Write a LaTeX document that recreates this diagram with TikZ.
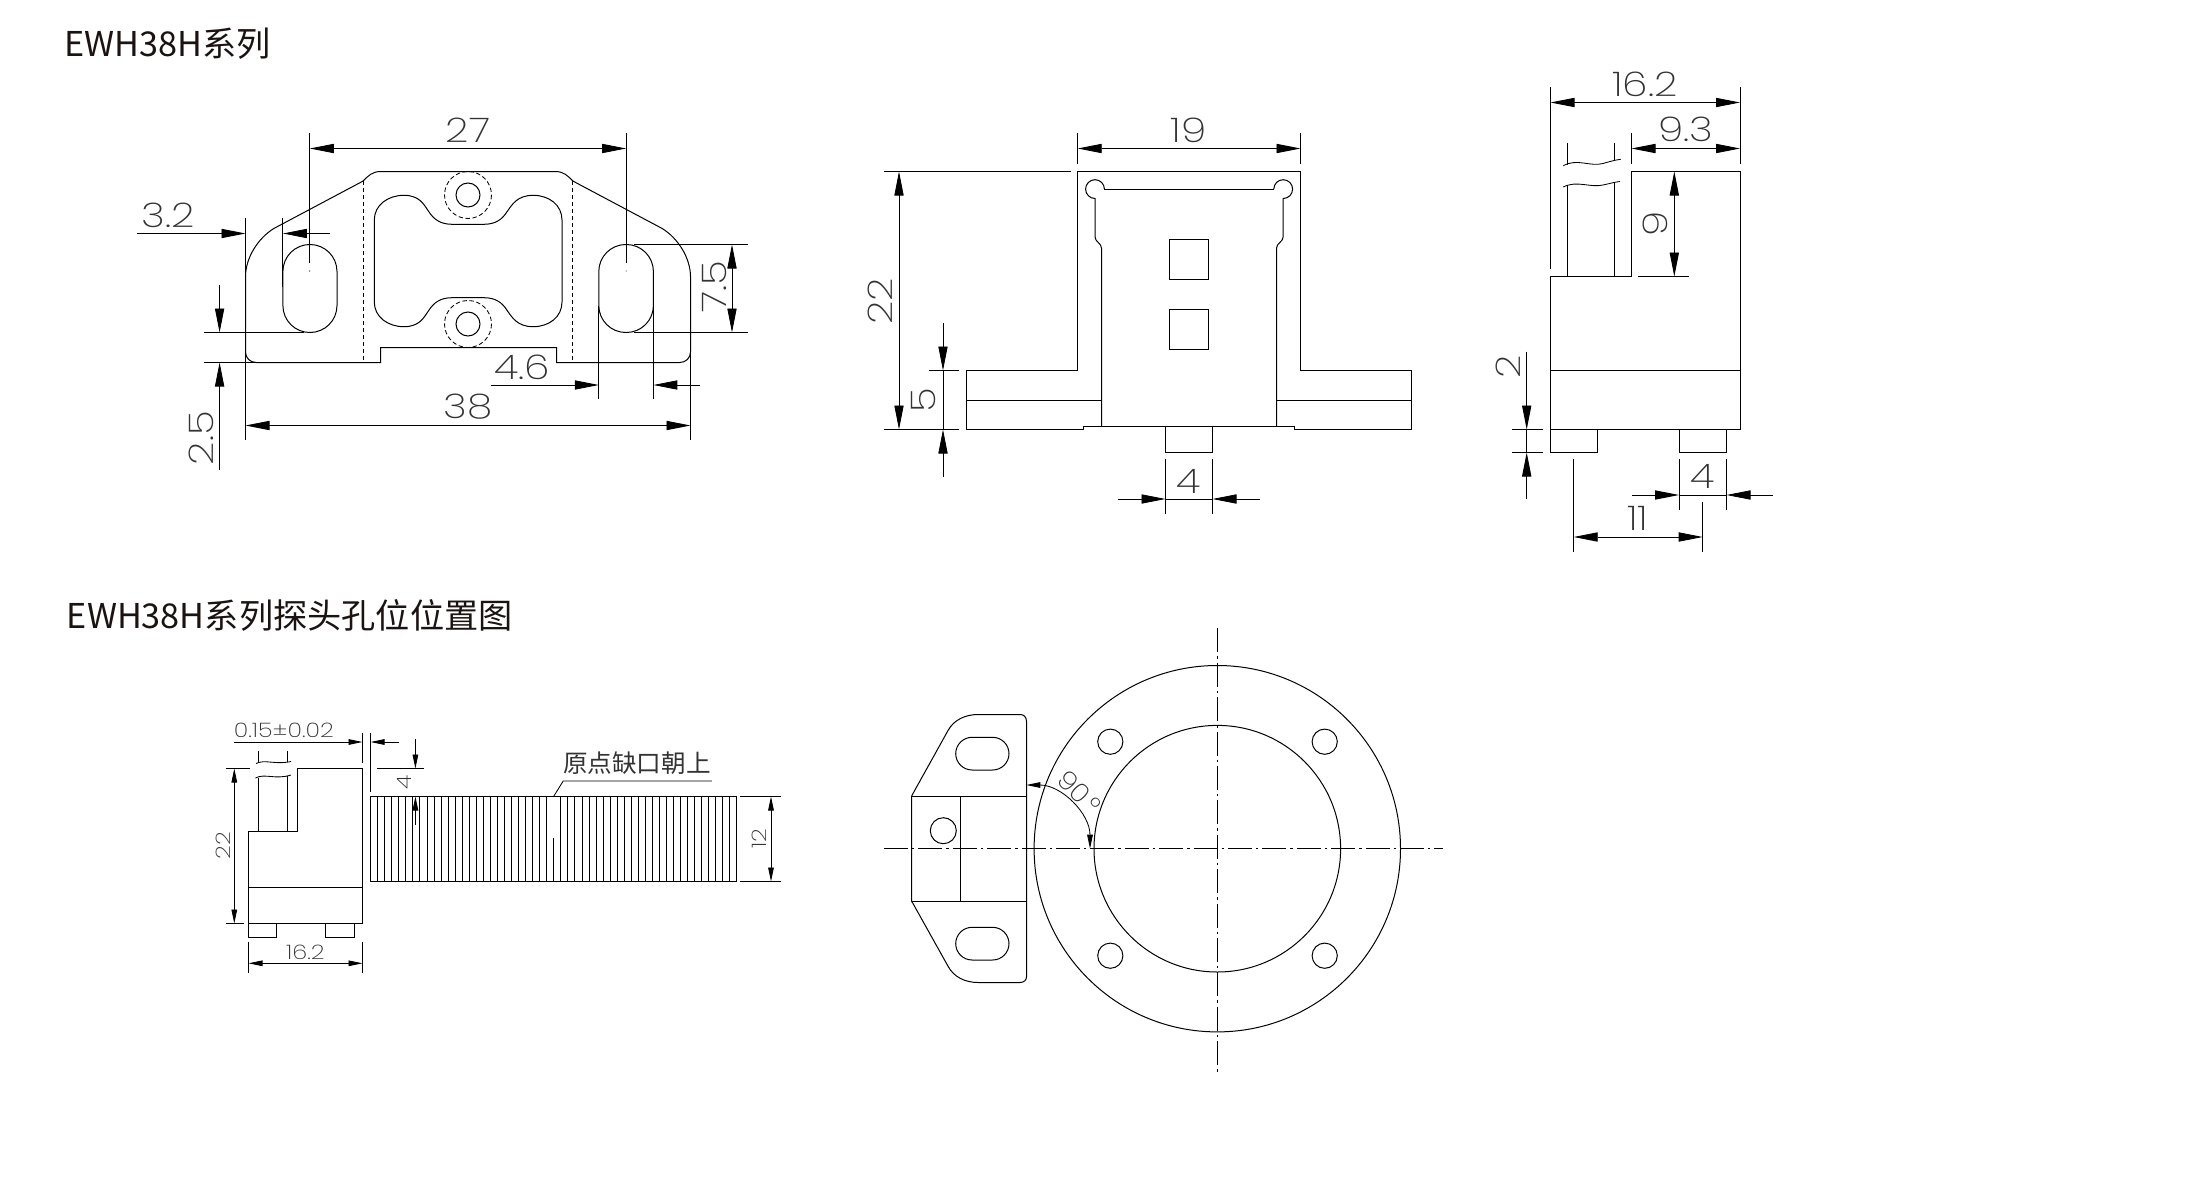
\documentclass[tikz,border=0pt]{standalone}
\usepackage{fontspec}
\usetikzlibrary{arrows.meta}
\newfontfamily\cadfont[UprightFont=* ExtraLight]{Poppins}
\newfontfamily\cjkfont{Noto Sans CJK SC}
\definecolor{inkc}{HTML}{1A1311}
\definecolor{dimc}{HTML}{333333}
\newcommand{\wdg}[1]{\scalebox{1.2}[1]{#1}}
\tikzset{
  obj/.style={line width=0.5pt,black,line join=miter},
  thn/.style={line width=0.42pt,black},
  dimln/.style={line width=0.42pt,black},
  ar/.style={dimln,-{Triangle[length=12pt,width=4.6pt]}},
  arb/.style={dimln,{Triangle[length=12pt,width=4.6pt]}-{Triangle[length=12pt,width=4.6pt]}},
  sar/.style={dimln,-{Triangle[length=7pt,width=2.8pt]}},
  sarb/.style={dimln,{Triangle[length=7pt,width=2.8pt]}-{Triangle[length=7pt,width=2.8pt]}},
  dim/.style={inner sep=0pt,text=dimc,font=\cadfont\fontsize{17}{17}\selectfont},
  sdim/.style={inner sep=0pt,text=dimc,font=\cadfont\fontsize{10}{10}\selectfont},
  ttl/.style={inner sep=0pt,anchor=base west,text=inkc,font=\cjkfont\fontsize{17.1}{17.1}\selectfont},
  cl/.style={line width=0.5pt,black,dash pattern=on 12pt off 2pt on 1.2pt off 2pt},
  hid/.style={line width=0.42pt,black,dash pattern=on 2.2pt off 1.3pt},
}
\begin{document}
\begin{tikzpicture}[x=0.5pt,y=-0.5pt]
\useasboundingbox (0,0) rectangle (2195,1177);
\fill[white] (0,0) rectangle (2195,1177);

% titles
\node[ttl] (t1) at (64,56.5) {EWH38H系列};
\node[ttl] (t2) at (66.5,628.5) {EWH38H系列探头孔位位置图};

% ---------- View 1
\draw[obj] (381,171.5) -- (555,171.5) .. controls (564,171.5) and (568,176) .. (572.8,181)
  -- (661.8,228.3) .. controls (678,238) and (690.5,258) .. (690.5,276.7) -- (690.5,351.7)
  .. controls (690.5,358) and (686,362.5) .. (679.6,362.5) -- (556.5,362.5) -- (556.5,347.5)
  -- (380.5,347.5) -- (380.5,362.5) -- (256.4,362.5) .. controls (250,362.5) and (245.5,358) .. (245.5,351.7)
  -- (245.5,276.7) .. controls (245.5,258) and (258,238) .. (274.2,228.3) -- (363.2,181)
  .. controls (368,176) and (372,171.5) .. (381,171.5) -- cycle;
\draw[obj,rounded corners=13.5pt] (282.9,244.5) rectangle (337,332.5);
\draw[obj,rounded corners=13.5pt] (598.8,244.5) rectangle (653.4,332.5);
\fill (309.8,271) circle[radius=0.6] (626.1,271) circle[radius=0.6];
\draw[hid] (363.2,181) -- (363.2,362) (572.8,181) -- (572.8,362);
\draw[obj] (374.3,220) .. controls (374.3,205) and (388,195.3) .. (403.9,195.3)
  .. controls (420,195.3) and (424,205) .. (428.4,211) .. controls (434,220) and (441,224.3) .. (452.2,224.3)
  -- (483.8,224.3) .. controls (495,224.3) and (502,220) .. (507.5,211)
  .. controls (512,205) and (517,195.3) .. (533.2,195.3) .. controls (549,195.3) and (562,205) .. (562,220)
  -- (562,302) .. controls (562,317) and (549,326.7) .. (533.2,326.7)
  .. controls (517,326.7) and (512,317) .. (507.5,311) .. controls (502,302) and (495,297.7) .. (483.8,297.7)
  -- (452.2,297.7) .. controls (441,297.7) and (434,302) .. (428.4,311)
  .. controls (424,317) and (420,326.7) .. (403.9,326.7) .. controls (388,326.7) and (374.3,317) .. (374.3,302) -- cycle;
\draw[obj] (468,195) circle[radius=12] (468,324) circle[radius=12];
\draw[hid] (468,195) circle[radius=23.5] (468,324) circle[radius=23.5];
% dims view 1
\draw[dimln] (309.8,133.3) -- (309.8,263) (626.1,133.3) -- (626.1,263);
\draw[arb] (309.8,148.5) -- (626.1,148.5);
\node[dim] (d27) at (468,130) {\wdg{27}};
\draw[dimln] (245.5,218.3) -- (245.5,440) (282.9,218.3) -- (282.9,287) (690.5,276) -- (690.5,440);
\draw[ar] (136.6,233.5) -- (245.5,233.5);
\draw[ar] (329.6,233.5) -- (282.9,233.5);
\node[dim] (d32) at (168.2,215) {\wdg{3.2}};
\draw[dimln] (204.2,332.5) -- (304,332.5) (204.2,362.5) -- (256,362.5);
\draw[ar] (219.6,285) -- (219.6,332.5);
\draw[ar] (219.6,470) -- (219.6,362.5);
\node[dim,rotate=90] (d25) at (201,438) {\wdg{2.5}};
\draw[dimln] (634,244.5) -- (748,244.5) (634,332.5) -- (748,332.5);
\draw[arb] (732,244.5) -- (732,332.5);
\node[dim,rotate=90] (d75) at (714,287) {\wdg{7.5}};
\draw[dimln] (598.8,306) -- (598.8,399.3) (653.4,306) -- (653.4,399.3);
\draw[ar] (490.5,385) -- (598.8,385);
\draw[ar] (700,385) -- (653.4,385);
\node[dim] (d46) at (522,367.7) {\wdg{4.6}};
\draw[arb] (245.5,425.5) -- (690.5,425.5);
\node[dim] (d38) at (468,406.7) {\wdg{38}};

% ---------- View 2
\draw[obj] (1077.7,171.5) -- (1300.5,171.5) -- (1300.5,370.5) -- (1411.5,370.5) -- (1411.5,429.5)
  -- (1294,429.5) -- (1294,426.5) -- (1083.8,426.5) -- (1083.8,429.5) -- (966.5,429.5) -- (966.5,370.5)
  -- (1077.7,370.5) -- cycle;
\draw[obj] (966.5,400.5) -- (1101.5,400.5) (1276.5,400.5) -- (1411.5,400.5);
\draw[obj] (1101.5,426.5) -- (1101.5,248.3) .. controls (1101.5,243) and (1095,242) .. (1095,236.7)
  -- (1095,198.5) arc[start angle=90,end angle=360,radius=9.4];
\draw[obj] (1104.4,189) -- (1273.6,189);
\draw[obj] (1276.5,426.5) -- (1276.5,248.3) .. controls (1276.5,243) and (1283.2,242) .. (1283.2,236.7)
  -- (1283.2,198.5) arc[start angle=90,end angle=-180,radius=9.4];
\draw[obj] (1169.5,239.5) rectangle (1208.5,279.5);
\draw[obj] (1169.5,309.5) rectangle (1208.5,349.5);
\draw[obj] (1165.5,426.5) rectangle (1212.5,452.5);
% dims view 2
\draw[dimln] (1077.7,133.3) -- (1077.7,164.3) (1300.5,133.3) -- (1300.5,164.3);
\draw[arb] (1077.7,148.5) -- (1300.5,148.5);
\node[dim] (d19) at (1188.7,130) {\wdg{19}};
\draw[dimln] (884.4,171.5) -- (1071.2,171.5) (884.4,429.5) -- (959,429.5) (928.5,370.5) -- (959,370.5);
\draw[arb] (899,171.5) -- (899,429.5);
\node[dim,rotate=90] (d22) at (880.6,301) {\wdg{22}};
\draw[ar] (943,323.3) -- (943,370.5);
\draw[ar] (943,476.7) -- (943,429.5);
\draw[dimln] (943,370.5) -- (943,429.5);
\node[dim,rotate=90] (d5) at (923.5,400) {\wdg{5}};
\draw[dimln] (1165.5,459.3) -- (1165.5,514.3) (1212.5,459.3) -- (1212.5,514.3) (1165.5,499) -- (1212.5,499);
\draw[ar] (1117.9,499) -- (1165.5,499);
\draw[ar] (1259.5,499) -- (1212.5,499);
\node[dim] (d4a) at (1188.7,481.7) {\wdg{4}};

% ---------- View 3
\draw[obj] (1550.5,276.5) -- (1631.5,276.5) -- (1631.5,171.5) -- (1740,171.5) -- (1740,429.5) -- (1550.5,429.5) -- cycle;
\draw[obj] (1550.5,370.5) -- (1740,370.5);
\draw[obj] (1550.5,429.5) -- (1550.5,452.5) -- (1597.5,452.5) -- (1597.5,429.5);
\draw[obj] (1679,429.5) -- (1679,452.5) -- (1726.5,452.5) -- (1726.5,429.5);
\draw[obj] (1567.5,276.5) -- (1567.5,185) (1614.5,276.5) -- (1614.5,182);
\draw[thn] (1567.5,142.7) -- (1567.5,165) (1614.5,142.7) -- (1614.5,161);
\draw[thn] (1563.3,165.7) .. controls (1577,158) and (1590,167) .. (1603,163.5) .. controls (1610,161.5) and (1615,160) .. (1620.7,159.3);
\draw[thn] (1563.3,187) .. controls (1577,180) and (1590,188) .. (1603,185) .. controls (1610,183.5) and (1615,182) .. (1620,181.5);
% dims view 3
\draw[dimln] (1550.5,87.3) -- (1550.5,269.3) (1740,87.3) -- (1740,164) (1631.5,133.3) -- (1631.5,164);
\draw[arb] (1550.5,102.5) -- (1740,102.5);
\node[dim] (d162) at (1645,84) {\wdg{16.2}};
\draw[arb] (1631.5,148.5) -- (1740,148.5);
\node[dim] (d93) at (1685.7,129) {\wdg{9.3}};
\draw[dimln] (1638.3,276.5) -- (1689.3,276.5);
\draw[arb] (1674.3,171.5) -- (1674.3,276.5);
\node[dim,rotate=90] (d9) at (1655,224) {\wdg{9}};
\draw[dimln] (1512.3,429.5) -- (1543.3,429.5) (1512.3,452.5) -- (1543.3,452.5) (1526.7,429.5) -- (1526.7,452.5);
\draw[ar] (1526.7,351.7) -- (1526.7,429.5);
\draw[ar] (1526.7,499) -- (1526.7,452.5);
\node[dim,rotate=90] (d2) at (1508.3,366.7) {\wdg{2}};
\draw[dimln] (1679,459.3) -- (1679,510) (1726.5,459.3) -- (1726.5,510) (1679,495) -- (1726.5,495);
\draw[ar] (1632.3,495) -- (1679,495);
\draw[ar] (1772.7,495) -- (1726.5,495);
\node[dim] (d4b) at (1702.7,476.7) {\wdg{4}};
\draw[dimln] (1573.7,459.3) -- (1573.7,551.7) (1702.7,501.7) -- (1702.7,551.7);
\draw[arb] (1573.7,537) -- (1702.7,537);
\node[dim] (d11) at (1637.7,518.3) {\wdg{11}};

% ---------- View 4
\draw[obj] (248.5,831.5) -- (297.5,831.5) -- (297.5,768.5) -- (362.5,768.5) -- (362.5,923.5) -- (248.5,923.5) -- cycle;
\draw[obj] (248.5,887.5) -- (362.5,887.5);
\draw[obj] (248.5,923.5) -- (248.5,937.5) -- (276.5,937.5) -- (276.5,923.5);
\draw[obj] (325.5,923.5) -- (325.5,937.5) -- (354.5,937.5) -- (354.5,923.5);
\draw[thn] (258.2,831.5) -- (258.2,777.5) (287.1,831.5) -- (287.1,776);
\draw[thn] (258.2,750.7) -- (258.2,763) (287.1,750.7) -- (287.1,762);
\draw[thn] (256,763.5) .. controls (265,759) and (275,765) .. (291,761.5);
\draw[thn] (255.4,778) .. controls (265,773) and (275,780) .. (291,775);
\draw[obj] (370.5,796.5) rectangle (736.8,881.5);
\foreach \i in {1,...,25,27,28,...,51}{\draw[line width=0.36pt,black] ({370.5+\i*7.046},796.5) -- ({370.5+\i*7.046},881.5);}
\draw[thn] ({370.5+26*7.046},838.3) -- ({370.5+26*7.046},881.5);
\draw[thn] (553.6,796.5) -- (563.2,781) -- (711.8,781);
\node[inner sep=0pt,text=dimc,font=\cjkfont\fontsize{12.3}{12.3}\selectfont] (lbl) at (636.8,763.3) {原点缺口朝上};
% dims view 4
\draw[dimln] (362.5,732.7) -- (362.5,763.3) (370.5,732.7) -- (370.5,791.7);
\draw[sar] (233.9,742) -- (362.5,742);
\draw[sar] (399,742) -- (370.5,742);
\node[sdim] (d015) at (283.9,730.7) {\wdg{0.15±0.02}};
\draw[dimln] (376.8,768.5) -- (424.3,768.5);
\draw[sar] (415.4,739.3) -- (415.4,768.5);
\draw[sar] (415.4,825) -- (415.4,796.5);
\node[sdim,rotate=90] (d4c) at (404.3,782.3) {\wdg{4}};
\draw[dimln] (225.7,768.5) -- (250,768.5) (225.7,923.5) -- (243.6,923.5);
\draw[sarb] (234.3,768.5) -- (234.3,923.5);
\node[sdim,rotate=90] (d22b) at (223.2,845.7) {\wdg{22}};
\draw[dimln] (248.5,941.7) -- (248.5,972.7) (362.5,941.7) -- (362.5,972.7);
\draw[sarb] (248.5,963.3) -- (362.5,963.3);
\node[sdim] (d162b) at (305.4,952.7) {\wdg{16.2}};
\draw[dimln] (740.4,796.5) -- (781,796.5) (740.4,881.5) -- (781,881.5);
\draw[sarb] (771,796.5) -- (771,881.5);
\node[sdim,rotate=90] (d12) at (759,839) {\wdg{12}};

% ---------- View 5
\draw[obj] (1026.5,721.7) .. controls (1026.5,717) and (1024,714.5) .. (1020,714.5) -- (978.3,714.5)
  .. controls (965,714.5) and (954,720) .. (948.3,730) -- (912.7,794) -- (911.7,796) -- (911.7,901.5)
  -- (912.7,903) -- (948.3,966.7) .. controls (954,977) and (965,982.5) .. (978.3,982.5) -- (1020,982.5)
  .. controls (1024,982.5) and (1026.5,980) .. (1026.5,976.7) -- cycle;
\draw[obj] (911.7,796.5) -- (1026.5,796.5) (911.7,901.5) -- (1026.5,901.5) (960.5,796.5) -- (960.5,901.5);
\draw[obj,rounded corners=8.2pt] (955.7,737.3) rectangle (1009,770);
\draw[obj,rounded corners=8.2pt] (955.7,927.3) rectangle (1009,960);
\draw[obj] (943.3,830.7) circle[radius=13];

% ---------- Ring
\draw[obj] (1217.3,848.7) circle[radius=183.2];
\draw[obj] (1217.3,848.7) circle[radius=123.3];
\draw[obj] (1110.3,741.7) circle[radius=12.6] (1324.7,741.7) circle[radius=12.6]
  (1110.3,955.7) circle[radius=12.6] (1324.7,955.7) circle[radius=12.6];
\draw[cl] (884,848.7) -- (1443.3,848.7);
\draw[cl] (1217.3,628.3) -- (1217.3,1075);
\draw[sarb] (1090,848.7) arc[start angle=0,end angle=-90,radius=63.7];
\node[inner sep=0pt,text=dimc,rotate=-45,font=\cadfont\fontsize{13}{13}\selectfont] (d90) at (1079,792) {\scalebox{1.1}[1]{90\kern1.5pt°}};

\end{tikzpicture}
\end{document}
